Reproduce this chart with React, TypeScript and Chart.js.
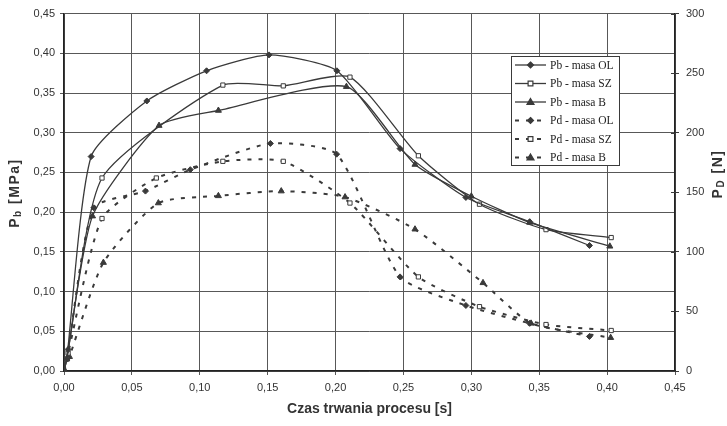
import React, { useEffect, useRef } from 'react';
import { Chart, registerables } from 'chart.js';
Chart.register(...registerables);

// ---- data (time in s, Pb in MPa, Pd in N) ----
const timePbOL = [0, 0.002, 0.02, 0.061, 0.105, 0.151, 0.201, 0.2475, 0.296, 0.343, 0.387];
const pbOL = [0, 0.015, 0.27, 0.34, 0.378, 0.398, 0.378, 0.28, 0.2185, 0.188, 0.158];

const timePbSZ = [0, 0.002, 0.028, 0.117, 0.1615, 0.2106, 0.261, 0.306, 0.355, 0.403];
const pbSZ = [0, 0.015, 0.243, 0.36, 0.359, 0.37, 0.271, 0.21, 0.178, 0.168];

const timePbB = [0, 0.002, 0.021, 0.07, 0.1137, 0.208, 0.2585, 0.3, 0.343, 0.402];
const pbB = [0, 0.015, 0.195, 0.309, 0.328, 0.358, 0.26, 0.22, 0.187, 0.157];

const timePdOL = [0, 0.003, 0.022, 0.06, 0.093, 0.152, 0.2008, 0.2475, 0.296, 0.343, 0.387];
const pdOL = [0, 18, 137, 151, 169, 191, 182, 79, 55, 40, 29];

const timePdSZ = [0, 0.003, 0.028, 0.068, 0.117, 0.1615, 0.2106, 0.261, 0.306, 0.355, 0.403];
const pdSZ = [0, 15, 128, 162, 176, 176, 141, 79, 54, 39, 34];

const timePdB = [0, 0.004, 0.029, 0.0695, 0.1137, 0.16, 0.207, 0.2585, 0.3086, 0.344, 0.4026];
const pdB = [0, 12, 91, 141, 147, 151, 146, 119, 74, 40, 28];

const seriesLabels = ['Pb - masa OL', 'Pb - masa SZ', 'Pb - masa B', 'Pd - masa OL', 'Pd - masa SZ', 'Pd - masa B'];
const xTitle = 'Czas trwania procesu [s]';

const INK = '#3a3a3a';
const GRID = '#585858';
const TEXT = '#333333';
const SANS = '"Liberation Sans", Arial, sans-serif';
const SERIF = '"Liberation Serif", "Times New Roman", serif';
const DASH = [4, 7];

const pts = (xs: number[], ys: number[]) => xs.map((x, i) => ({ x, y: ys[i] }));
const comma = (v: number) => Number(v).toFixed(2).replace('.', ',');

function drawMarker(ctx: CanvasRenderingContext2D, style: string, x: number, y: number, r: number, fill: string) {
  ctx.save();
  ctx.setLineDash([]);
  ctx.lineWidth = 1.2;
  ctx.strokeStyle = INK;
  ctx.fillStyle = fill;
  ctx.beginPath();
  if (style === 'rectRot') {
    ctx.moveTo(x, y - r); ctx.lineTo(x + r, y); ctx.lineTo(x, y + r); ctx.lineTo(x - r, y); ctx.closePath();
  } else if (style === 'rect') {
    ctx.rect(x - r * 0.8, y - r * 0.8, r * 1.6, r * 1.6);
  } else {
    ctx.moveTo(x, y - r); ctx.lineTo(x + r, y + r * 0.7); ctx.lineTo(x - r, y + r * 0.7); ctx.closePath();
  }
  ctx.fill();
  ctx.stroke();
  ctx.restore();
}

function drawSubTitle(ctx: CanvasRenderingContext2D, cx: number, cy: number, main: string, sub: string, rest: string) {
  ctx.save();
  ctx.translate(cx, cy);
  ctx.rotate(-Math.PI / 2);
  ctx.fillStyle = TEXT;
  ctx.textBaseline = 'middle';
  (ctx as any).letterSpacing = '1.5px';
  const big = 'bold 14px ' + SANS;
  const small = 'bold 10px ' + SANS;
  ctx.font = big; const w1 = ctx.measureText(main).width; const w3 = ctx.measureText(rest).width;
  ctx.font = small; const w2 = ctx.measureText(sub).width;
  let x = -(w1 + w2 + w3) / 2;
  ctx.font = big; ctx.textAlign = 'left'; ctx.fillText(main, x, 0); x += w1;
  ctx.font = small; ctx.fillText(sub, x, 3); x += w2;
  ctx.font = big; ctx.fillText(rest, x, 0);
  ctx.restore();
}

const overlay = {
  id: 'overlay',
  afterDraw(chart: any) {
    const ctx: CanvasRenderingContext2D = chart.ctx;
    const ca = chart.chartArea;
    const y1 = chart.scales.y1;
    // inward cross ticks on right axis
    ctx.save();
    ctx.strokeStyle = INK; ctx.lineWidth = 1;
    y1.ticks.forEach((t: any) => {
      const py = Math.round(y1.getPixelForValue(t.value)) + 0.5;
      ctx.beginPath(); ctx.moveTo(ca.right - 4, py); ctx.lineTo(ca.right, py); ctx.stroke();
    });
    ctx.restore();

    // legend
    const lx = 511, ly = 56, lw = 108, lh = 109;
    ctx.save();
    ctx.fillStyle = '#ffffff';
    ctx.fillRect(lx, ly, lw, lh);
    ctx.strokeStyle = INK; ctx.lineWidth = 1;
    ctx.strokeRect(lx + 0.5, ly + 0.5, lw, lh);
    chart.data.datasets.forEach((ds: any, i: number) => {
      const yy = 65 + i * 18.5;
      ctx.save();
      ctx.strokeStyle = INK;
      ctx.lineWidth = ds.borderWidth;
      ctx.setLineDash(ds.borderDash || []);
      ctx.beginPath(); ctx.moveTo(515, yy); ctx.lineTo(546, yy); ctx.stroke();
      ctx.restore();
      drawMarker(ctx, ds.pointStyle, 530.5, yy, ds.pointRadius, ds.pointBackgroundColor);
      ctx.fillStyle = '#222';
      ctx.font = '11.5px ' + SERIF;
      ctx.textBaseline = 'middle';
      ctx.textAlign = 'left';
      ctx.fillText(ds.label, 550, yy + 0.5);
    });
    ctx.restore();

    // axis titles
    drawSubTitle(ctx, 15, 193, 'P', 'b', ' [MPa]');
    drawSubTitle(ctx, 718, 174, 'P', 'D', ' [N]');
    ctx.save();
    ctx.fillStyle = TEXT;
    ctx.font = 'bold 14px ' + SANS;
    ctx.textAlign = 'center';
    ctx.textBaseline = 'middle';
    ctx.fillText(xTitle, (ca.left + ca.right) / 2, 409);
    ctx.restore();
  },
};

function makeDs(label: string, xs: number[], ys: number[], style: string, dashed: boolean, axis: string) {
  const open = style === 'rect';
  return {
    label,
    data: pts(xs, ys),
    yAxisID: axis,
    borderColor: INK,
    borderWidth: dashed ? 2 : 1.3,
    borderDash: dashed ? DASH : [],
    pointStyle: style,
    pointRadius: style === 'triangle' ? 3.5 : 3,
    pointBackgroundColor: open ? '#ffffff' : INK,
    pointBorderColor: INK,
    pointBorderWidth: 1,
    tension: 0.2,
    fill: false,
  };
}

export default function App() {
  const ref = useRef<HTMLCanvasElement | null>(null);
  useEffect(() => {
    document.body.style.margin = '0';
    const canvas = ref.current!;
    const tickFont = { family: SANS, size: 11 };
    const chart = new Chart(canvas, {
      type: 'line',
      data: {
        datasets: [
          makeDs(seriesLabels[0], timePbOL, pbOL, 'rectRot', false, 'y'),
          makeDs(seriesLabels[1], timePbSZ, pbSZ, 'rect', false, 'y'),
          makeDs(seriesLabels[2], timePbB, pbB, 'triangle', false, 'y'),
          makeDs(seriesLabels[3], timePdOL, pdOL, 'rectRot', true, 'y1'),
          makeDs(seriesLabels[4], timePdSZ, pdSZ, 'rect', true, 'y1'),
          makeDs(seriesLabels[5], timePdB, pdB, 'triangle', true, 'y1'),
        ] as any,
      },
      options: {
        animation: false,
        responsive: false,
        devicePixelRatio: 1,
        layout: { padding: { top: 12, left: 0, right: 0, bottom: 0 } },
        plugins: { legend: { display: false }, tooltip: { enabled: false } },
        scales: {
          x: {
            type: 'linear', min: 0, max: 0.45,
            ticks: { stepSize: 0.05, padding: 6, color: TEXT, font: tickFont, callback: (v: any) => comma(v), maxRotation: 0 },
            grid: { color: GRID, lineWidth: 1, tickLength: 4 },
            border: { color: '#222', width: 1.5 },
            afterFit: (s: any) => { s.height = 55; },
          },
          y: {
            type: 'linear', position: 'left', min: 0, max: 0.45,
            ticks: { stepSize: 0.05, padding: 5, color: TEXT, font: tickFont, callback: (v: any) => comma(v) },
            grid: { color: GRID, lineWidth: 1, tickLength: 4 },
            border: { color: '#222', width: 1.5 },
            afterFit: (s: any) => { s.width = 64; },
          },
          y1: {
            type: 'linear', position: 'right', min: 0, max: 300,
            ticks: { stepSize: 50, padding: 7, color: TEXT, font: tickFont },
            grid: { drawOnChartArea: false, color: INK, tickLength: 4 },
            border: { color: '#222', width: 1.5 },
            afterFit: (s: any) => { s.width = 52; },
          },
        },
      } as any,
      plugins: [overlay],
    });
    return () => chart.destroy();
  }, []);
  return (
    <div style={{ width: 727, height: 426, background: '#fff' }}>
      <canvas ref={ref} width={727} height={426} style={{ display: 'block' }} />
    </div>
  );
}
